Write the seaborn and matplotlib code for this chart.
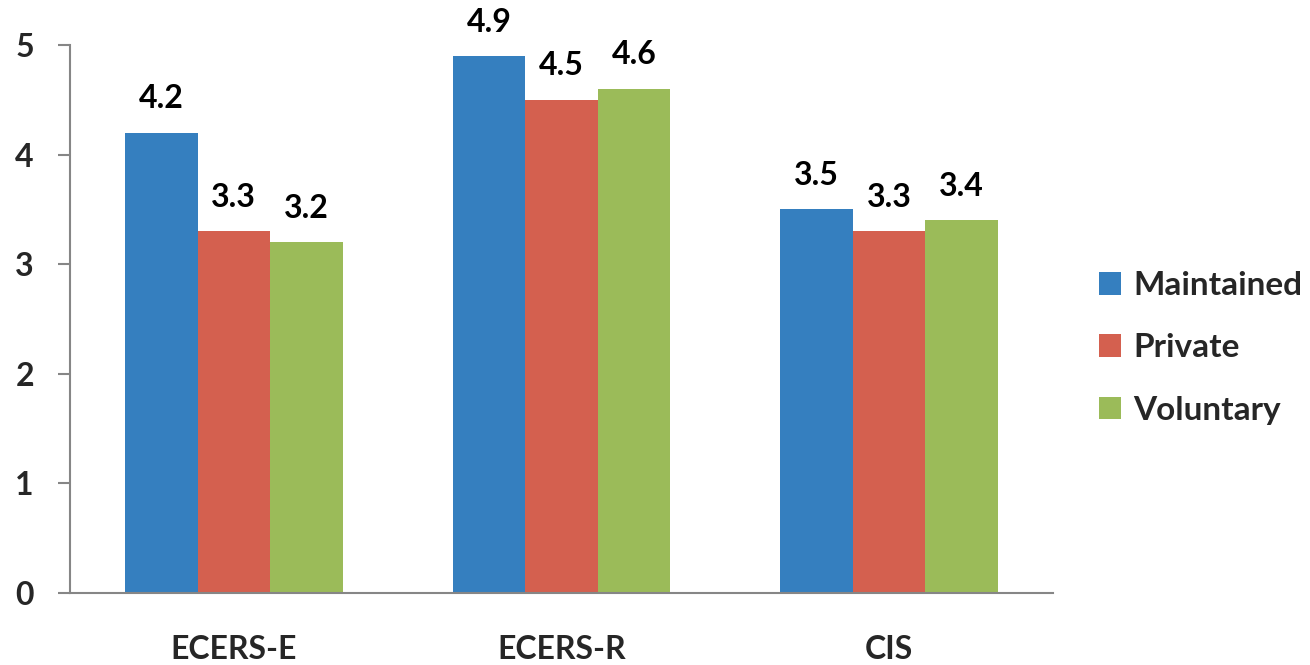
import matplotlib
matplotlib.use("Agg")
import matplotlib.pyplot as plt
import seaborn as sns
import pandas as pd
from matplotlib.patches import Patch

# Mean quality scores by setting type
scales = ["ECERS-E", "ECERS-R", "CIS"]
maintained = [4.2, 4.9, 3.5]
private = [3.3, 4.5, 3.3]
voluntary = [3.2, 4.6, 3.4]
sectors = ["Maintained", "Private", "Voluntary"]
colors = ["#357FBF", "#D4604F", "#9BBB59"]
y_ticks = [0, 1, 2, 3, 4, 5]

rows = []
for sector, vals in zip(sectors, [maintained, private, voluntary]):
    for scale, v in zip(scales, vals):
        rows.append({"Scale": scale, "Sector": sector, "Score": v})
df = pd.DataFrame(rows)

sns.set_style("white")
plt.rcParams["font.family"] = ["Lato", "DejaVu Sans"]
plt.rcParams["font.weight"] = "bold"

FS = 23
AXIS_GREY = "#868686"

fig = plt.figure(figsize=(13.1, 6.65), dpi=100)
ax = fig.add_axes([70 / 1310, 1 - 593 / 665, (1053 - 70) / 1310, (593 - 45) / 665])

sns.barplot(data=df, x="Scale", y="Score", hue="Sector", order=scales,
            hue_order=sectors, palette=colors, width=0.665, saturation=1,
            edgecolor="none", linewidth=0, legend=False, ax=ax, errorbar=None)

for container in ax.containers:
    ax.bar_label(container, labels=[f"{v:.1f}" for v in container.datavalues],
                 padding=14, fontsize=FS, fontweight="bold", color="black")

ax.set_xlim(-0.5, len(scales) - 0.5)
ax.set_ylim(0, 5)
ax.set_yticks(y_ticks)
ax.set_yticklabels([str(t) for t in y_ticks], fontsize=FS, fontweight="bold")
ax.set_xticks(range(len(scales)))
ax.set_xticklabels(scales, fontsize=FS, fontweight="bold")
ax.set_xticks([i - 0.5 for i in range(len(scales) + 1)], minor=True)
ax.tick_params(axis="x", which="major", length=0, pad=30)
ax.tick_params(axis="x", which="minor", length=9, width=1.5, color=AXIS_GREY,
               direction="out")
ax.tick_params(axis="y", which="major", length=9, width=1.5, color=AXIS_GREY,
               direction="out", pad=17, left=True)
ax.set_xlabel("")
ax.set_ylabel("")

for side in ["top", "right"]:
    ax.spines[side].set_visible(False)
for side in ["left", "bottom"]:
    ax.spines[side].set_color(AXIS_GREY)
    ax.spines[side].set_linewidth(1.5)

handles = [Patch(facecolor=c, edgecolor="none") for c in colors]
fig.legend(handles, sectors, loc="center left",
           bbox_to_anchor=(1099 / 1310, 1 - 348 / 665), frameon=False,
           prop={"size": 24, "weight": "bold"}, handlelength=0.67,
           handleheight=0.67, handletextpad=0.35, labelspacing=1.0,
           borderaxespad=0, borderpad=0)

fig.savefig("out.png", dpi=100)
